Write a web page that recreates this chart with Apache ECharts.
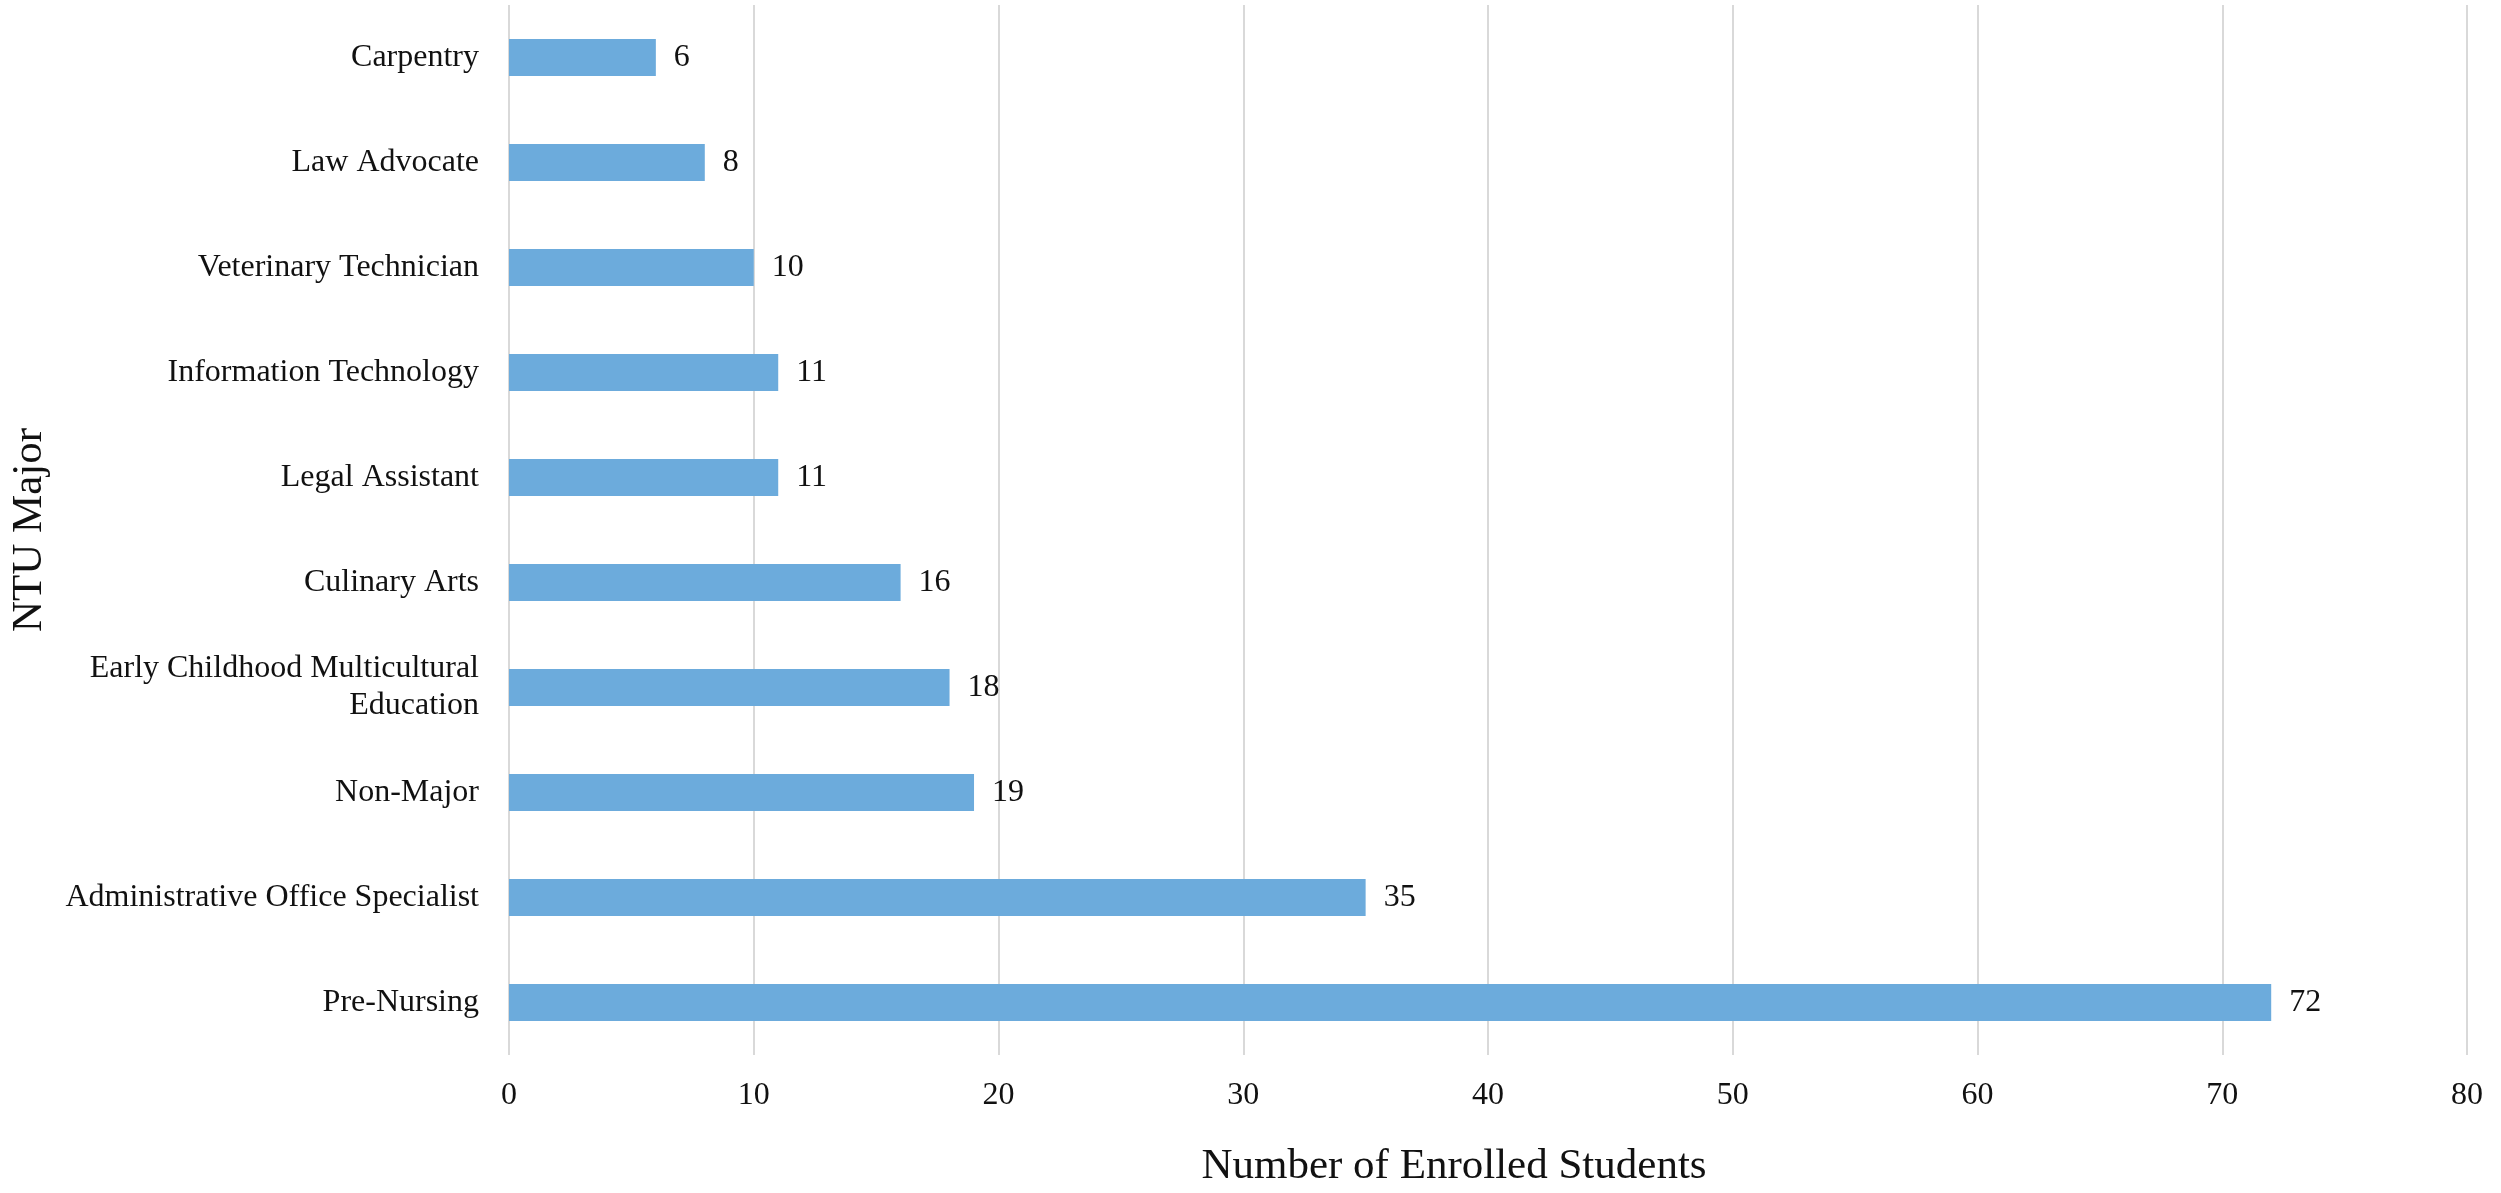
<!DOCTYPE html>
<html>
<head>
<meta charset="utf-8">
<script src="https://cdn.jsdelivr.net/npm/echarts@6/dist/echarts.min.js"></script>
<style>
html,body{margin:0;padding:0;background:#fff;}
#chart{width:2501px;height:1193px;}
</style>
</head>
<body>
<div id="chart"></div>
<script>
const categories = [
  "Carpentry",
  "Law Advocate",
  "Veterinary Technician",
  "Information Technology",
  "Legal Assistant",
  "Culinary Arts",
  "Early Childhood Multicultural Education",
  "Non-Major",
  "Administrative Office Specialist",
  "Pre-Nursing"
];
const enrolled = [6, 8, 10, 11, 11, 16, 18, 19, 35, 72];
const xTicks = [0, 10, 20, 30, 40, 50, 60, 70, 80];
const xTitle = "Number of Enrolled Students";
const yTitle = "NTU Major";

const FONT = "'Liberation Serif', 'Times New Roman', serif";
const chart = echarts.init(document.getElementById('chart'));
chart.setOption({
  backgroundColor: '#ffffff',
  animation: false,
  grid: { left: 497, right: 34, top: 5, bottom: 132, containLabel: false },
  xAxis: {
    type: 'value',
    min: xTicks[0],
    max: xTicks[xTicks.length - 1],
    interval: xTicks[1] - xTicks[0],
    axisLine: { show: false },
    axisTick: { show: false },
    splitLine: { show: true, lineStyle: { color: '#d9d9d9', width: 2 } },
    axisLabel: { fontFamily: FONT, fontSize: 32, color: '#111', margin: 25 },
    name: xTitle,
    nameLocation: 'middle',
    nameGap: 90,
    nameMoveOverlap: false,
    nameTextStyle: { fontFamily: FONT, fontSize: 43, color: '#111', padding: [0, 68, 0, 0] }
  },
  yAxis: {
    type: 'category',
    data: categories,
    inverse: true,
    axisLine: { show: false },
    axisTick: { show: false },
    splitLine: { show: false },
    axisLabel: {
      fontFamily: FONT, fontSize: 32, color: '#111', margin: 30, lineHeight: 37, align: 'right',
      formatter: v => v === 'Early Childhood Multicultural Education' ? 'Early Childhood Multicultural\nEducation' : v
    },
    name: yTitle,
    nameLocation: 'middle',
    nameGap: 458,
    nameRotate: 90,
    nameMoveOverlap: false,
    nameTextStyle: { fontFamily: FONT, fontSize: 43, color: '#111' }
  },
  series: [{
    type: 'bar',
    data: enrolled,
    barWidth: 37,
    itemStyle: { color: '#6cabdc' },
    label: { show: true, position: 'right', distance: 18, fontFamily: FONT, fontSize: 32, color: '#111' }
  }]
});
</script>
</body>
</html>
